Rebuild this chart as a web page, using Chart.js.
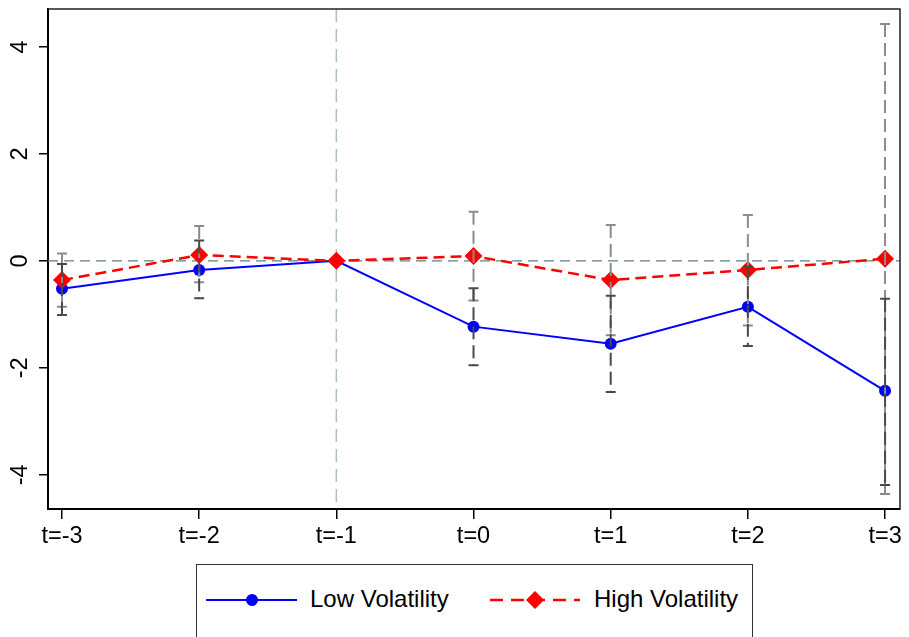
<!DOCTYPE html>
<html>
<head>
<meta charset="utf-8">
<script src="https://cdn.jsdelivr.net/npm/chart.js@4.4.1/dist/chart.umd.min.js"></script>
<style>
  html, body { margin: 0; padding: 0; background: #fff; }
  #wrap { position: relative; width: 909px; height: 637px; overflow: hidden; }
  #c { position: absolute; left: 0; top: 0; }
  #legend {
    position: absolute; left: 196px; top: 564px; width: 557px; height: 90px;
    border: 1.5px solid #333; box-sizing: border-box; background: #fff;
    font-family: "Liberation Sans", Arial, sans-serif; font-size: 24px; color: #000;
  }
  #legend svg, #legend span { position: absolute; }
  #legend span { top: 20px; line-height: 28px; }
</style>
</head>
<body>
<div id="wrap">
  <canvas id="c" width="909" height="560"></canvas>
  <div id="legend">
    <svg style="left:9px;top:24px" width="92" height="22">
      <line x1="0" y1="11" x2="91" y2="11" stroke="#0000ff" stroke-width="2"/>
      <circle cx="46" cy="11" r="6" fill="#0000ff"/>
    </svg>
    <span style="left:113px">Low Volatility</span>
    <svg style="left:293px;top:24px" width="92" height="22">
      <line x1="0" y1="11" x2="90" y2="11" stroke="#ff0000" stroke-width="2.5" stroke-dasharray="13 8"/>
      <polygon points="45,2 54,11 45,20 36,11" fill="#ff0000"/>
    </svg>
    <span style="left:397px">High Volatility</span>
  </div>
</div>
<script>
// event-study estimates with confidence intervals
const xVals = [-3, -2, -1, 0, 1, 2, 3];
const xLabels = ['t=-3', 't=-2', 't=-1', 't=0', 't=1', 't=2', 't=3'];
const yTicks = [-4, -2, 0, 2, 4];

const lowVals = [-0.52, -0.17, 0, -1.23, -1.55, -0.86, -2.43];
const lowLo   = [-1.01, -0.70, null, -1.95, -2.45, -1.59, -4.19];
const lowHi   = [-0.06, 0.38, null, -0.51, -0.65, -0.11, -0.71];

const highVals = [-0.36, 0.11, 0, 0.09, -0.36, -0.17, 0.04];
const highLo   = [-0.86, -0.40, null, -0.74, -1.39, -1.21, -4.36];
const highHi   = [0.14, 0.65, null, 0.92, 0.67, 0.86, 4.43];

const font = { family: '"Liberation Sans", Arial, sans-serif', size: 23.5 };

const refLines = {
  id: 'refLines',
  beforeDatasetsDraw(chart) {
    const { ctx, chartArea: a, scales: { x, y } } = chart;
    ctx.save();
    ctx.lineWidth = 1.2;
    ctx.setLineDash([10, 6]);
    ctx.strokeStyle = '#5f8080';
    const y0 = y.getPixelForValue(0);
    ctx.beginPath(); ctx.moveTo(a.left, y0); ctx.lineTo(a.right, y0); ctx.stroke();
    ctx.strokeStyle = '#a8c0c0';
    ctx.lineWidth = 1.5;
    ctx.setLineDash([13, 7]);
    const xv = x.getPixelForValue(-1);
    ctx.beginPath(); ctx.moveTo(xv, a.top); ctx.lineTo(xv, a.bottom); ctx.stroke();
    ctx.restore();
  },
  afterDraw(chart) {
    const { ctx, chartArea: a } = chart;
    ctx.save();
    ctx.strokeStyle = '#222';
    ctx.lineWidth = 1.5;
    ctx.beginPath();
    ctx.moveTo(a.left, a.top); ctx.lineTo(a.right, a.top); ctx.lineTo(a.right, a.bottom);
    ctx.stroke();
    ctx.restore();
  }
};

const errorBars = {
  id: 'errorBars',
  afterDatasetsDraw(chart) {
    const { ctx, scales: { x, y } } = chart;
    const draw = (lo, hi, color) => {
      ctx.save();
      ctx.strokeStyle = color;
      ctx.lineWidth = 2;
      xVals.forEach((v, i) => {
        if (lo[i] == null) return;
        const px = x.getPixelForValue(v);
        const y1 = y.getPixelForValue(lo[i]);
        const y2 = y.getPixelForValue(hi[i]);
        ctx.setLineDash([13, 6]);
        ctx.beginPath(); ctx.moveTo(px, y2); ctx.lineTo(px, y1); ctx.stroke();
        ctx.setLineDash([]);
        ctx.beginPath();
        ctx.moveTo(px - 5, y1); ctx.lineTo(px + 5, y1);
        ctx.moveTo(px - 5, y2); ctx.lineTo(px + 5, y2);
        ctx.stroke();
      });
      ctx.restore();
    };
    draw(highLo, highHi, '#8c8c8c');
    draw(lowLo, lowHi, '#4a4a4a');
  }
};

new Chart(document.getElementById('c'), {
  type: 'line',
  data: {
    datasets: [
      {
        label: 'Low Volatility',
        data: xVals.map((x, i) => ({ x, y: lowVals[i] })),
        borderColor: '#0000ff',
        backgroundColor: '#0000ff',
        borderWidth: 2,
        pointStyle: 'circle',
        pointRadius: 6,
        pointBorderWidth: 0,
        order: 1
      },
      {
        label: 'High Volatility',
        data: xVals.map((x, i) => ({ x, y: highVals[i] })),
        borderColor: '#ff0000',
        backgroundColor: '#ff0000',
        borderWidth: 2.5,
        borderDash: [11, 6],
        pointStyle: 'rectRot',
        pointRadius: 9,
        pointBorderWidth: 0,
        order: 0
      }
    ]
  },
  options: {
    responsive: false,
    animation: false,
    layout: { padding: { top: 9, right: 6, left: 0, bottom: 0 } },
    plugins: { legend: { display: false }, tooltip: { enabled: false } },
    scales: {
      x: {
        type: 'linear',
        min: -3.102,
        max: 3.109,
        afterBuildTicks: s => { s.ticks = xVals.map(v => ({ value: v })); },
        afterFit: s => { s.height = 51; s.paddingLeft = 0; s.paddingRight = 0; },
        ticks: { color: '#000', font, padding: 3, maxRotation: 0, callback: (v, i) => xLabels[i] },
        grid: { drawOnChartArea: false, drawTicks: true, tickLength: 10, color: '#000', lineWidth: 1.5 },
        border: { color: '#000', width: 2 }
      },
      y: {
        min: -4.64,
        max: 4.71,
        afterBuildTicks: s => { s.ticks = yTicks.map(v => ({ value: v })); },
        afterFit: s => { s.width = 48; s.paddingTop = 0; s.paddingBottom = 0; },
        ticks: { color: '#000', font, padding: 8, minRotation: 90, maxRotation: 90, crossAlign: 'center', callback: v => String(v) },
        grid: { drawOnChartArea: false, drawTicks: true, tickLength: 9, color: '#000', lineWidth: 1.5 },
        border: { color: '#000', width: 2 }
      }
    }
  },
  plugins: [refLines, errorBars]
});
</script>
</body>
</html>
